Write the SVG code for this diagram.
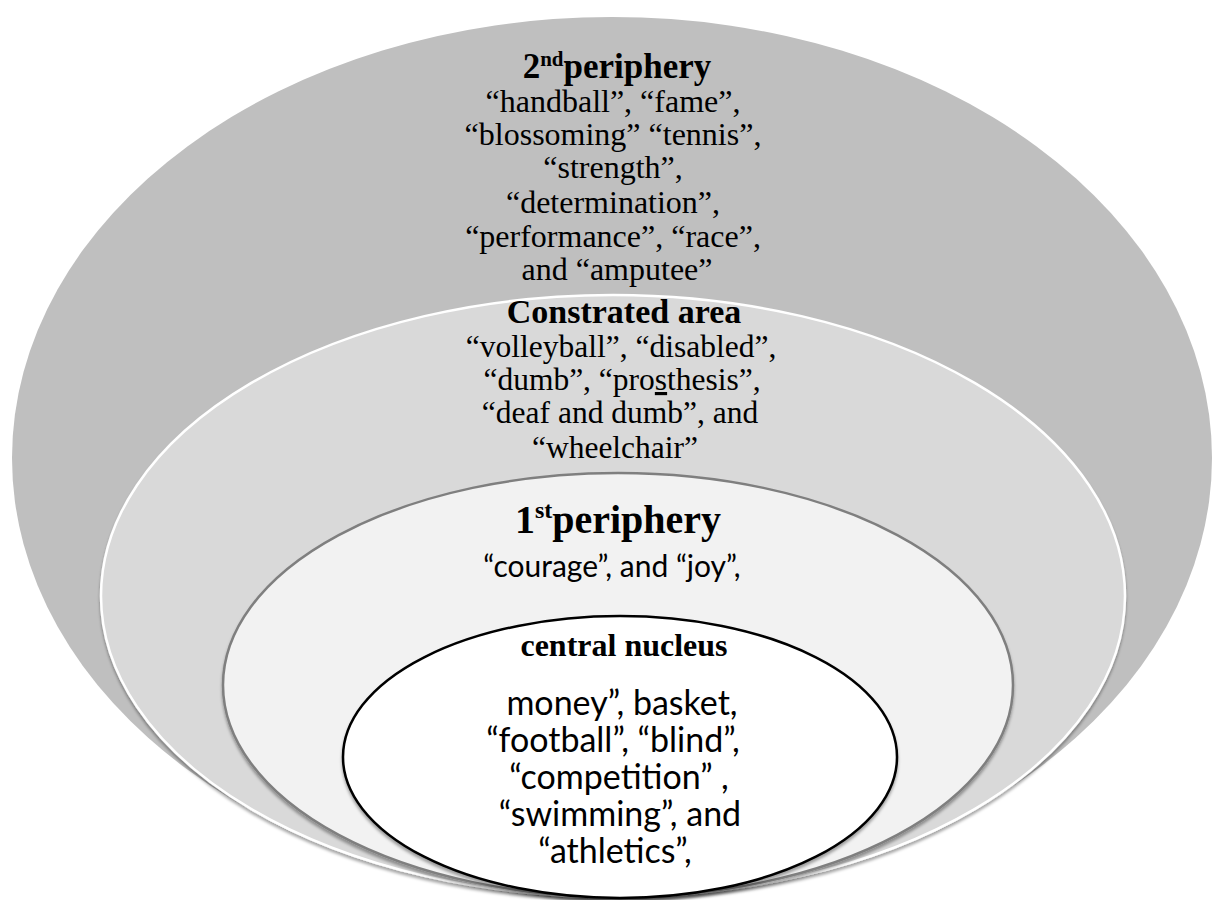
<svg xmlns="http://www.w3.org/2000/svg" width="1224" height="900" viewBox="0 0 1224 900">
<defs>
<filter id="shadow" x="-5%" y="-5%" width="110%" height="115%">
<feDropShadow dx="0" dy="3" stdDeviation="1.5" flood-color="#000" flood-opacity="0.35"/>
</filter>
</defs>
<style>
.serif{font-family:"Liberation Serif","DejaVu Serif",serif;fill:#000;text-anchor:middle}
.sans{font-family:"Lato","Liberation Sans",sans-serif;fill:#000;text-anchor:middle}
.t2{font-size:32px}
.h2{font-size:35px;font-weight:bold}
.tc{font-size:31.5px}
.hc{font-size:34px;font-weight:bold}
.h1{font-size:40px;font-weight:bold}
.hn{font-size:32px;font-weight:bold}
.tj{font-size:30px}
.ti{font-size:34px}
</style>
<rect width="1224" height="900" fill="#fff"/>
<g id="second-periphery">
<ellipse cx="612" cy="458" rx="600" ry="441" fill="#bfbfbf"/>
<text class="serif h2" x="617" y="78">2<tspan font-size="21" dy="-12">nd</tspan><tspan dy="12">periphery</tspan></text>
<text class="serif t2"><tspan x="617" y="112">“handball”, “fame”,</tspan>
<tspan x="617" y="145">“blossoming” “tennis”,</tspan>
<tspan x="617" y="178">“strength”,</tspan>
<tspan x="617" y="213">“determination”,</tspan>
<tspan x="617" y="247">“performance”, “race”,</tspan>
<tspan x="617" y="280">and “amputee”</tspan></text>
</g>
<g id="constrasted-area">
<ellipse cx="613" cy="596" rx="512" ry="301" fill="#d9d9d9" stroke="#fff" stroke-width="2.5" filter="url(#shadow)"/>
<text class="serif hc" x="624" y="323">Constrated area</text>
<text class="serif tc"><tspan x="625" y="357">“volleyball”, “disabled”,</tspan>
<tspan x="626" y="390">“dumb”, “pro<tspan text-decoration="underline">s</tspan>thesis”,</tspan>
<tspan x="624" y="423">“deaf and dumb”,  and</tspan>
<tspan x="615" y="458">“wheelchair”</tspan></text>
</g>
<g id="first-periphery">
<ellipse cx="618" cy="685" rx="395" ry="212" fill="#f2f2f2" stroke="#7f7f7f" stroke-width="2.5" filter="url(#shadow)"/>
<text class="serif h1" x="618" y="533">1<tspan font-size="24" dy="-15">st</tspan><tspan dy="15">periphery</tspan></text>
<text class="sans tj" x="612" y="577">“courage”, and “joy”,</text>
</g>
<g id="central-nucleus">
<ellipse cx="620" cy="757" rx="277" ry="141" fill="#fff" stroke="#000" stroke-width="2.5" filter="url(#shadow)"/>
<text class="serif hn" x="624" y="656">central nucleus</text>
<text class="sans ti" x="622" y="715">money”, basket,</text>
<text class="sans ti" x="613" y="752">“football”, “blind”,</text>
<text class="sans ti" x="619" y="789">“competition” ,</text>
<text class="sans ti" x="620" y="826">“swimming”, and</text>
<text class="sans ti" x="615" y="863">“athletics”,</text>
</g>
<g id="connectors"/>
</svg>
